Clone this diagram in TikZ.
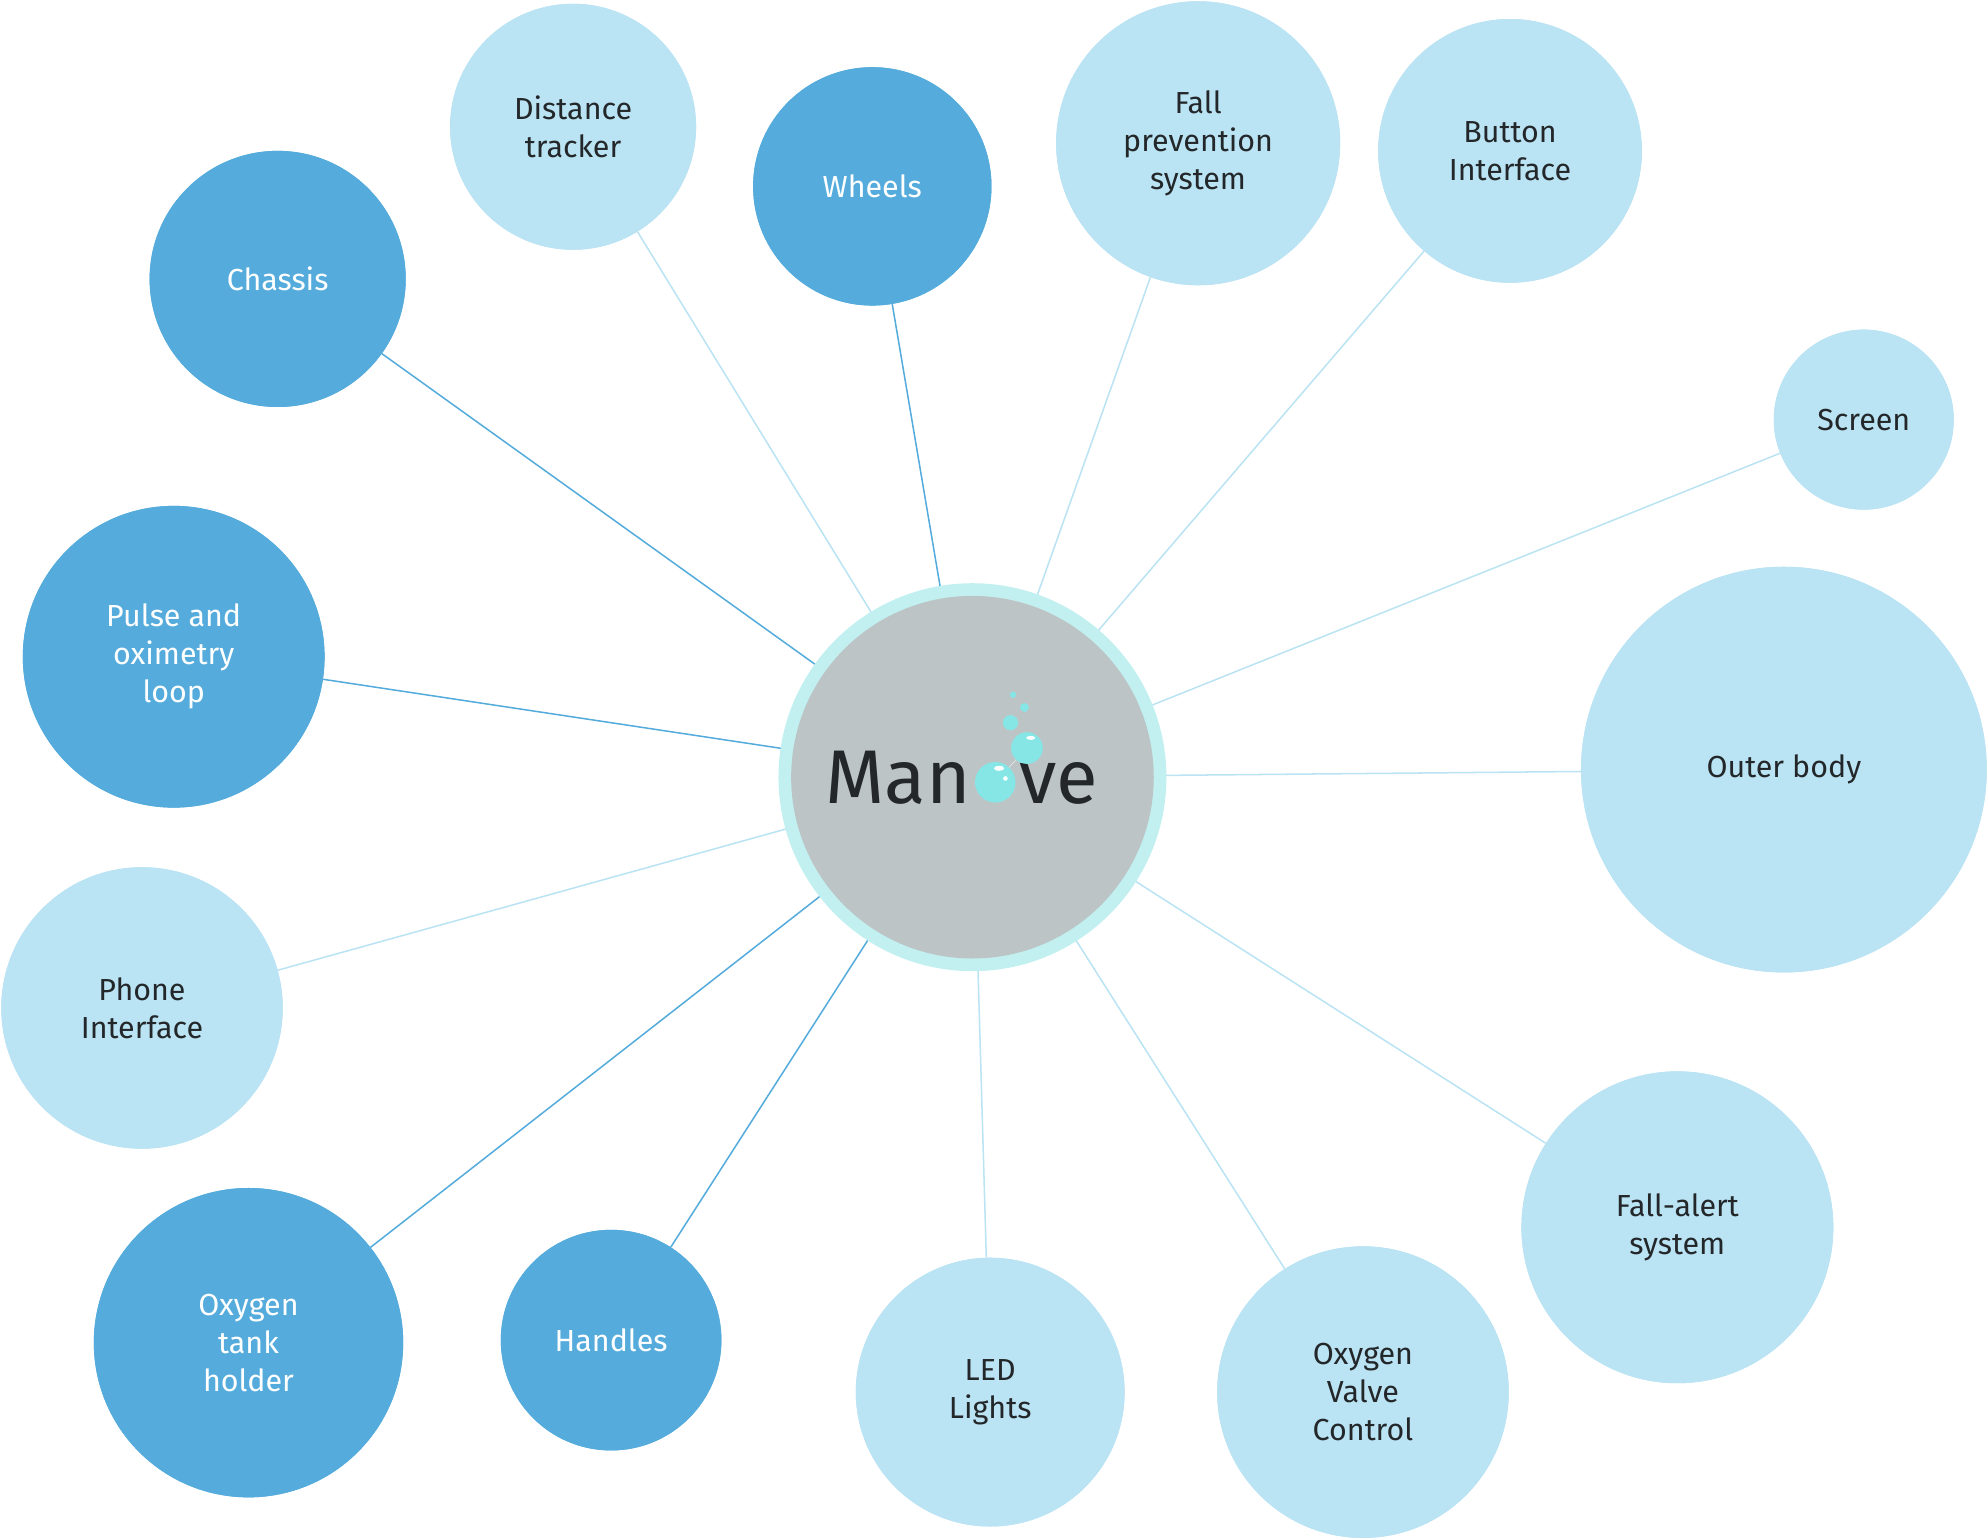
\documentclass[tikz,border=0pt]{standalone}
\usepackage{fontspec}
\setmainfont{Fira Sans}
\definecolor{dk}{HTML}{55ACDC}
\definecolor{lt}{HTML}{BAE3F3}
\definecolor{ring}{HTML}{C2F0F0}
\definecolor{gry}{HTML}{BCC4C6}
\definecolor{txt}{HTML}{23272A}
\definecolor{bub}{HTML}{86E6E6}
\begin{document}
\begin{tikzpicture}[x=1pt,y=-1pt,
  dkn/.style={circle,fill=dk,text=white,inner sep=0,align=center,font=\fontsize{24}{30}\selectfont},
  ltn/.style={circle,fill=lt,text=txt,inner sep=0,align=center,font=\fontsize{24}{30}\selectfont},
  dkl/.style={draw=dk,line width=1.2pt},
  ltl/.style={draw=lt,line width=1.2pt}]
\useasboundingbox (0,0) rectangle (1568,1214);
\coordinate (c) at (767,613);
\node[dkn,minimum size=202] (chassis) at (219,220) {Chassis};
\node[ltn,minimum size=194] (dist) at (452,100) {Distance\\tracker};
\node[dkn,minimum size=188] (wheels) at (688,147) {Wheels};
\node[ltn,minimum size=224] (fallp) at (945,113) {Fall\\prevention\\system};
\node[ltn,minimum size=208] (button) at (1191,119) {Button\\Interface};
\node[ltn,minimum size=142] (screen) at (1470,331) {Screen};
\node[ltn,minimum size=320] (outer) at (1407,607) {Outer body};
\node[ltn,minimum size=246] (falla) at (1323,968) {Fall-alert\\system};
\node[ltn,minimum size=230] (valve) at (1075,1098) {Oxygen\\Valve\\Control};
\node[ltn,minimum size=212] (led) at (781,1098) {LED\\Lights};
\node[dkn,minimum size=174] (handles) at (482,1057) {Handles};
\node[dkn,minimum size=244] (tank) at (196,1059) {Oxygen\\tank\\holder};
\node[ltn,minimum size=222] (phone) at (112,795) {Phone\\Interface};
\node[dkn,minimum size=238] (pulse) at (137,518) {Pulse and\\oximetry\\loop};
\begin{scope}[on background layer/.style={}]
\end{scope}
\foreach \n in {chassis,wheels,handles,tank,pulse} \draw[dkl] (c) -- (\n);
\foreach \n in {dist,fallp,button,screen,outer,falla,valve,led,phone} \draw[ltl] (c) -- (\n);
% redraw nodes over lines
\node[dkn,minimum size=202] at (219,220) {Chassis};
\node[ltn,minimum size=194] at (452,100) {Distance\\tracker};
\node[dkn,minimum size=188] at (688,147) {Wheels};
\node[ltn,minimum size=224] at (945,113) {Fall\\prevention\\system};
\node[ltn,minimum size=208] at (1191,119) {Button\\Interface};
\node[ltn,minimum size=142] at (1470,331) {Screen};
\node[ltn,minimum size=320] at (1407,607) {Outer body};
\node[ltn,minimum size=246] at (1323,968) {Fall-alert\\system};
\node[ltn,minimum size=230] at (1075,1098) {Oxygen\\Valve\\Control};
\node[ltn,minimum size=212] at (781,1098) {LED\\Lights};
\node[dkn,minimum size=174] at (482,1057) {Handles};
\node[dkn,minimum size=244] at (196,1059) {Oxygen\\tank\\holder};
\node[ltn,minimum size=222] at (112,795) {Phone\\Interface};
\node[dkn,minimum size=238] at (137,518) {Pulse and\\oximetry\\loop};
\node[circle,fill=ring,minimum size=306,inner sep=0] (center) at (c) {};
\node[circle,fill=gry,minimum size=286,inner sep=0] at (c) {};
\node[anchor=base east,text=txt,inner sep=0,font=\fontsize{60}{70}\selectfont] (man) at (766,634) {Man};
\node[anchor=base west,text=txt,inner sep=0,font=\fontsize{60}{70}\selectfont] (ve) at (804,634) {ve};
\draw[white,opacity=0.6,line width=0.5pt] (785,617) -- (810,590);
\fill[bub] (785,617) circle (16) (810,590) circle (12.5) (797,570) circle (6) (808,558) circle (3.5) (799,548) circle (2.5);
\fill[white] (788,606) ellipse (4 and 2) (793,614) circle (1.8) (813,582) ellipse (3.5 and 1.6);
\end{tikzpicture}
\end{document}
